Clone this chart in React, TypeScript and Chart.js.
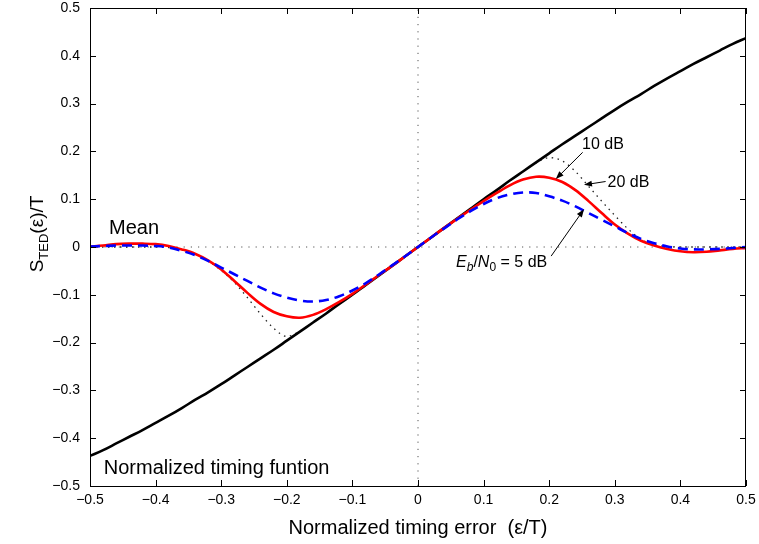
import { useEffect, useRef } from "react";
import { Chart, registerables } from "chart.js";

Chart.register(...registerables);

// Normalized timing error ε/T
const errorValues = [
  -0.5, -0.48, -0.46, -0.44, -0.42, -0.4, -0.38, -0.36, -0.34, -0.32, -0.3,
  -0.28, -0.26, -0.24, -0.22, -0.2, -0.18, -0.16, -0.14, -0.12, -0.1, -0.08,
  -0.06, -0.04, -0.02, 0, 0.02, 0.04, 0.06, 0.08, 0.1, 0.12, 0.14, 0.16, 0.18,
  0.2, 0.22, 0.24, 0.26, 0.28, 0.3, 0.32, 0.34, 0.36, 0.38, 0.4, 0.42, 0.44,
  0.46, 0.48, 0.5,
];

// Normalized timing function
const timingFunction = [
  -0.437, -0.425, -0.411, -0.397, -0.383, -0.368, -0.353, -0.337, -0.32, -0.304,
  -0.287, -0.269, -0.251, -0.233, -0.215, -0.196, -0.177, -0.158, -0.139,
  -0.119, -0.1, -0.08, -0.06, -0.04, -0.02, 0, 0.02, 0.04, 0.06, 0.08, 0.1,
  0.119, 0.139, 0.158, 0.177, 0.196, 0.215, 0.233, 0.251, 0.269, 0.287, 0.304,
  0.32, 0.337, 0.353, 0.368, 0.383, 0.397, 0.411, 0.425, 0.437,
];

// Mean S-curve at Eb/N0 = 5 dB
const mean5dB = [
  0.001, 0.002, 0.003, 0.003, 0.003, 0.002, -0.001, -0.008, -0.017, -0.029,
  -0.043, -0.057, -0.071, -0.085, -0.097, -0.106, -0.112, -0.114, -0.111,
  -0.103, -0.091, -0.076, -0.058, -0.039, -0.02, 0, 0.02, 0.039, 0.058, 0.075,
  0.09, 0.102, 0.11, 0.114, 0.113, 0.106, 0.097, 0.085, 0.071, 0.057, 0.043,
  0.029, 0.017, 0.008, 0.001, -0.003, -0.005, -0.005, -0.004, -0.002, 0,
];

// Mean S-curve at Eb/N0 = 10 dB
const mean10dB = [
  0.001, 0.003, 0.006, 0.007, 0.007, 0.006, 0.002, -0.005, -0.014, -0.028,
  -0.047, -0.071, -0.096, -0.119, -0.136, -0.145, -0.148, -0.142, -0.13,
  -0.115, -0.098, -0.079, -0.059, -0.04, -0.02, 0, 0.02, 0.04, 0.059, 0.078,
  0.096, 0.113, 0.129, 0.141, 0.147, 0.145, 0.136, 0.119, 0.096, 0.071, 0.047,
  0.028, 0.013, 0.003, -0.004, -0.009, -0.011, -0.01, -0.007, -0.004, -0.002,
];

// Mean S-curve at Eb/N0 = 20 dB
const mean20dB = [
  0, 0, 0, 0, 0, 0, -0.001, -0.005, -0.014, -0.029, -0.049, -0.074, -0.106,
  -0.14, -0.17, -0.187, -0.176, -0.158, -0.139, -0.119, -0.1, -0.08, -0.06,
  -0.04, -0.02, 0, 0.02, 0.04, 0.06, 0.08, 0.1, 0.119, 0.139, 0.158, 0.176,
  0.187, 0.18, 0.158, 0.127, 0.096, 0.066, 0.038, 0.016, 0.005, 0.001, 0, 0, 0,
  0, 0, 0,
];

// Reference lines through the origin
const zeroLineX = [-0.5, 0.5];
const zeroLineY = [-0.5, 0.5];

const axisMin = -0.5;
const axisMax = 0.5;
const tickStep = 0.1;

const FONT = "'Liberation Sans', Arial, Helvetica, sans-serif";

const textNotes = [
  { text: "Mean", x: -0.471, y: 0.027, size: 20 },
  { text: "Normalized timing funtion", x: -0.479, y: -0.475, size: 20 },
  { text: "10 dB", x: 0.25, y: 0.205, size: 16 },
  { text: "20 dB", x: 0.289, y: 0.126, size: 16 },
];

const arrowNotes = [
  { from: [0.251, 0.198], to: [0.21, 0.142] },
  { from: [0.286, 0.137], to: [0.253, 0.13] },
  { from: [0.203, -0.019], to: [0.253, 0.079] },
];

const toPoints = (ys: number[]) => errorValues.map((x, i) => ({ x, y: ys[i] }));

const fmtTick = (v: number | string) => {
  const n = Number(v);
  if (Math.abs(n) < 1e-9) return "0";
  return (n < 0 ? "\u2212" : "") + Math.abs(n).toFixed(1);
};

function drawArrow(ctx: CanvasRenderingContext2D, x1: number, y1: number, x2: number, y2: number) {
  const ang = Math.atan2(y2 - y1, x2 - x1);
  const len = 8;
  const half = 3;
  ctx.beginPath();
  ctx.moveTo(x1, y1);
  ctx.lineTo(x2 - Math.cos(ang) * len * 0.8, y2 - Math.sin(ang) * len * 0.8);
  ctx.stroke();
  ctx.beginPath();
  ctx.moveTo(x2, y2);
  ctx.lineTo(x2 - Math.cos(ang) * len - Math.sin(ang) * half, y2 - Math.sin(ang) * len + Math.cos(ang) * half);
  ctx.lineTo(x2 - Math.cos(ang) * len + Math.sin(ang) * half, y2 - Math.sin(ang) * len - Math.cos(ang) * half);
  ctx.closePath();
  ctx.fill();
}

const framePlugin = {
  id: "frameAndNotes",
  afterDraw(chart: any) {
    const { ctx, chartArea: a, scales } = chart;
    const xs = scales.x;
    const ys = scales.y;
    ctx.save();
    ctx.strokeStyle = "#000";
    ctx.fillStyle = "#000";
    ctx.lineWidth = 1;
    ctx.strokeRect(a.left + 0.5, a.top + 0.5, a.right - a.left - 1, a.bottom - a.top);

    // inward ticks on all four sides
    const tl = 6;
    ctx.beginPath();
    xs.ticks.forEach((t: any) => {
      const px = Math.round(xs.getPixelForValue(t.value)) + 0.5;
      ctx.moveTo(px, a.bottom);
      ctx.lineTo(px, a.bottom - tl);
      ctx.moveTo(px, a.top);
      ctx.lineTo(px, a.top + tl);
    });
    ys.ticks.forEach((t: any) => {
      const py = Math.round(ys.getPixelForValue(t.value)) + 0.5;
      ctx.moveTo(a.left, py);
      ctx.lineTo(a.left + tl, py);
      ctx.moveTo(a.right, py);
      ctx.lineTo(a.right - tl, py);
    });
    ctx.stroke();

    // text notes
    ctx.textBaseline = "alphabetic";
    ctx.textAlign = "left";
    textNotes.forEach((n) => {
      ctx.font = `${n.size}px ${FONT}`;
      ctx.fillText(n.text, xs.getPixelForValue(n.x), ys.getPixelForValue(n.y));
    });

    // Eb/N0 = 5 dB with subscripts
    let cx = xs.getPixelForValue(0.058);
    const by = ys.getPixelForValue(-0.041);
    const parts: [string, string, number][] = [
      ["E", "italic 16px", 0],
      ["b", "italic 12px", 4],
      ["/", "16px", 0],
      ["N", "italic 16px", 0],
      ["0", "12px", 4],
      [" = 5 dB", "16px", 0],
    ];
    parts.forEach(([s, f, dy]) => {
      ctx.font = `${f} ${FONT}`;
      ctx.fillText(s, cx, by + dy);
      cx += ctx.measureText(s).width;
    });

    // arrows
    ctx.lineWidth = 1;
    arrowNotes.forEach((ar) => {
      drawArrow(
        ctx,
        xs.getPixelForValue(ar.from[0]),
        ys.getPixelForValue(ar.from[1]),
        xs.getPixelForValue(ar.to[0]),
        ys.getPixelForValue(ar.to[1])
      );
    });

    // x axis title
    ctx.font = `20px ${FONT}`;
    ctx.textAlign = "center";
    ctx.fillText("Normalized timing error  (\u03b5/T)", (a.left + a.right) / 2, 534);

    // y axis title with subscript
    ctx.save();
    ctx.translate(43, 234);
    ctx.rotate(-Math.PI / 2);
    ctx.textAlign = "left";
    const yParts: [string, string, number][] = [
      ["S", "19px", 0],
      ["TED", "13px", 5],
      ["(\u03b5)/T", "19px", 0],
    ];
    let total = 0;
    yParts.forEach(([s, f]) => {
      ctx.font = `${f} ${FONT}`;
      total += ctx.measureText(s).width;
    });
    let tx = -total / 2;
    yParts.forEach(([s, f, dy]) => {
      ctx.font = `${f} ${FONT}`;
      ctx.fillText(s, tx, dy);
      tx += ctx.measureText(s).width;
    });
    ctx.restore();

    ctx.restore();
  },
};

export default function App() {
  const ref = useRef<HTMLCanvasElement | null>(null);

  useEffect(() => {
    if (!ref.current) return;
    const chart = new Chart(ref.current, {
      type: "line",
      data: {
        datasets: [
          {
            label: "5 dB",
            data: toPoints(mean5dB),
            borderColor: "#0000ff",
            borderWidth: 2.6,
            borderDash: [10, 6],
            tension: 0.35,
          },
          {
            label: "10 dB",
            data: toPoints(mean10dB),
            borderColor: "#ff0000",
            borderWidth: 2.6,
            tension: 0.35,
          },
          {
            label: "Normalized timing funtion",
            data: toPoints(timingFunction),
            borderColor: "#000",
            borderWidth: 2.6,
            tension: 0.35,
          },
          {
            label: "20 dB",
            data: toPoints(mean20dB),
            borderColor: "#222",
            borderWidth: 1.3,
            borderDash: [1.5, 4.5],
            cubicInterpolationMode: "monotone",
          },
          {
            label: "zero",
            data: zeroLineX.map((x) => ({ x, y: 0 })),
            borderColor: "#555",
            borderWidth: 1,
            borderDash: [1.2, 6],
          },
          {
            label: "origin",
            data: zeroLineY.map((y) => ({ x: 0, y })),
            borderColor: "#555",
            borderWidth: 1,
            borderDash: [1.2, 6],
          },
        ],
      },
      options: {
        animation: false,
        responsive: false,
        devicePixelRatio: 1,
        events: [],
        elements: { point: { radius: 0 } },
        layout: { autoPadding: false, padding: { top: 8, right: 13, left: 0, bottom: 0 } },
        plugins: { legend: { display: false }, tooltip: { enabled: false } },
        scales: {
          x: {
            type: "linear",
            min: axisMin,
            max: axisMax,
            grid: { display: false, drawTicks: false },
            border: { display: false },
            ticks: {
              stepSize: tickStep,
              padding: 6,
              color: "#000",
              font: { family: FONT, size: 14 },
              callback: fmtTick,
              maxRotation: 0,
            },
            afterFit: (s: any) => {
              s.height = 58;
              s.paddingLeft = 0;
              s.paddingRight = 0;
            },
          },
          y: {
            type: "linear",
            min: axisMin,
            max: axisMax,
            grid: { display: false, drawTicks: false },
            border: { display: false },
            ticks: {
              stepSize: tickStep,
              padding: 10,
              color: "#000",
              font: { family: FONT, size: 14 },
              callback: fmtTick,
            },
            afterFit: (s: any) => {
              s.width = 90;
              s.paddingTop = 0;
              s.paddingBottom = 0;
            },
          },
        },
      },
      plugins: [framePlugin],
    });
    return () => chart.destroy();
  }, []);

  return (
    <div style={{ position: "absolute", left: 0, top: 0, background: "#fff" }}>
      <canvas ref={ref} width={759} height={544} style={{ display: "block" }} />
    </div>
  );
}
